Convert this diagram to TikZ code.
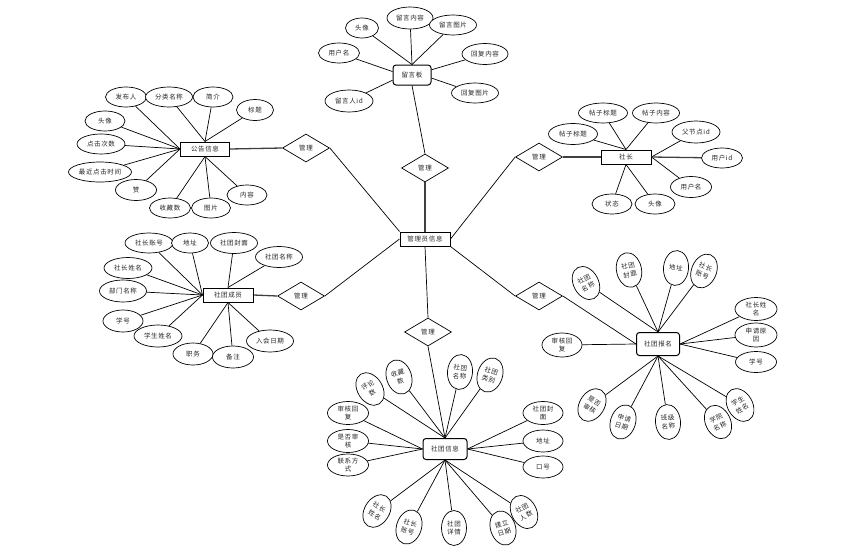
\documentclass[tikz,border=0pt]{standalone}
\usepackage{fontspec}
\setmainfont{Noto Sans CJK SC}[LetterSpace=10]
\usetikzlibrary{shapes.geometric,backgrounds}
\newcommand{\myfs}{\fontsize{6.5}{8.8}\selectfont}
\tikzset{
  attr/.style={ellipse, draw, fill=white, line width=0.7pt, inner sep=0pt,
    minimum width=#1, minimum height=20pt, font=\myfs, align=center, text=black!85},
  attr/.default=42pt,
  tall/.style={ellipse, draw, fill=white, line width=0.7pt, inner sep=0pt,
    minimum width=25pt, minimum height=35pt, font=\myfs, align=center,
    rotate=#1, text=black!85},
  ent/.style={rectangle, draw, fill=white, line width=1pt, minimum width=50pt,
    minimum height=14pt, inner sep=0pt, font=\myfs, text=black!85},
  rent/.style={rectangle, rounded corners=3pt, draw, fill=white, line width=1pt,
    inner sep=0pt, font=\myfs, text=black!85},
  rel/.style={diamond, draw, fill=white, line width=0.7pt, minimum width=47pt,
    minimum height=28pt, inner sep=0pt, font=\myfs, text=black!85},
  conn/.style={line width=0.7pt},
  tconn/.style={line width=1.3pt, black!75},
}
\begin{document}
\begin{tikzpicture}[x=1pt,y=-1pt]
\useasboundingbox (0,0) rectangle (859,554);

% ---------- entities ----------
\node[ent] (admin) at (425,239) {管理员信息};
\node[rent, minimum width=38pt, minimum height=20pt] (lyb) at (412,75) {留言板};
\node[ent, minimum width=49pt] (pub) at (205,149) {公告信息};
\node[ent] (sz) at (626,157) {社长};
\node[ent] (shcy) at (228,295) {社团成员};
\node[rent, minimum width=43pt, minimum height=23pt] (shbm) at (658,344) {社团报名};
\node[rent, minimum width=44pt, minimum height=21pt] (shxx) at (445,449) {社团信息};

% ---------- relations ----------
\node[rel] (r1) at (425,168) {管理};
\node[rel] (r2) at (306,148) {管理};
\node[rel] (r3) at (539,157) {管理};
\node[rel] (r4) at (301,296) {管理};
\node[rel] (r5) at (539,296) {管理};
\node[rel] (r6) at (428,332) {管理};

% ---------- 留言板 attributes ----------
\node[attr=46pt, minimum height=22pt] (l2) at (410,18) {留言内容};
\node[attr=33pt] (l1) at (362,28) {头像};
\node[attr=47pt] (l3) at (453,25) {留言图片};
\node[attr=41pt] (l4) at (339,53) {用户名};
\node[attr=46pt, minimum height=21pt] (l5) at (485,54) {回复内容};
\node[attr=47pt] (l6) at (475,93) {回复图片};
\node[attr=48pt, minimum height=22pt] (l7) at (349,101) {留言人id};

% ---------- 公告信息 attributes ----------
\node[attr=41pt] (p1) at (126,97) {发布人};
\node[attr=47pt] (p2) at (169,97) {分类名称};
\node[attr=40pt] (p3) at (213,97) {简介};
\node[attr=37pt, minimum height=21pt] (p4) at (255,110) {标题};
\node[attr=40pt] (p5) at (105,121) {头像};
\node[attr=48pt] (p6) at (101,144) {点击次数};
\node[attr=63pt] (p7) at (100,172) {最近点击时间};
\node[attr=41pt, minimum height=21pt] (p8) at (136,190) {赞};
\node[attr=41pt] (p9) at (170,208) {收藏数};
\node[attr=39pt] (p10) at (211,208) {图片};
\node[attr=40pt] (p11) at (247,195) {内容};

% ---------- 社长 attributes ----------
\node[attr=49pt] (s1) at (603,113) {帖子标题};
\node[attr=47pt] (s2) at (656,113) {帖子内容};
\node[attr=49pt, minimum height=21pt] (s3) at (573,134) {帖子标题};
\node[attr=48pt, minimum height=22pt] (s4) at (696,132) {父节点id};
\node[attr=41pt] (s5) at (722,158) {用户id};
\node[attr=41pt, minimum height=21pt] (s6) at (691,187) {用户名};
\node[attr=40pt] (s7) at (612,204) {状态};
\node[attr=40pt] (s8) at (655,204) {头像};

% ---------- 社团成员 attributes ----------
\node[attr=48pt] (c1) at (149,243) {社长账号};
\node[attr=37pt] (c2) at (190,243) {地址};
\node[attr=47pt, minimum height=21pt] (c3) at (234,243) {社团封面};
\node[attr=47pt, minimum height=21pt] (c4) at (279,257) {社团名称};
\node[attr=48pt, minimum height=21pt] (c5) at (128,268) {社长姓名};
\node[attr=47pt, minimum height=22pt] (c6) at (123,291) {部门名称};
\node[attr=40pt, minimum height=22pt] (c7) at (123,321) {学号};
\node[attr=48pt, minimum height=22pt] (c8) at (158,336) {学生姓名};
\node[attr=40pt, minimum height=22pt] (c9) at (193,354) {职务};
\node[attr=41pt, minimum height=22pt] (c10) at (233,357) {备注};
\node[attr=47pt, minimum height=22pt] (c11) at (270,341) {入会日期};

% ---------- 社团报名 attributes ----------
\node[tall=28] (b1) at (586,283) {社团\\名称};
\node[tall=12] (b2) at (629,270) {社团\\封面};
\node[tall=-5] (b3) at (676,268) {地址};
\node[tall=-22] (b4) at (704,271) {社长\\账号};
\node[attr=42pt, minimum height=23pt] (b5) at (756,309) {社长姓\\名};
\node[attr=42pt, minimum height=24pt] (b6) at (756,335) {申请原\\因};
\node[attr=41pt, minimum height=21pt] (b7) at (756,362) {学号};
\node[attr=40pt, minimum height=24pt] (b8) at (562,345) {审核回\\复};
\node[tall=-32] (b9) at (592,405) {是否\\审核};
\node[tall=-18] (b10) at (623,422) {申请\\日期};
\node[tall=5] (b11) at (668,422) {班级\\名称};
\node[tall=26] (b12) at (718,422) {学院\\名称};
\node[tall=30] (b13) at (740,405) {学生\\姓名};

% ---------- 社团信息 attributes ----------
\node[tall=32] (x1) at (370,389) {评论\\数};
\node[tall=18] (x2) at (399,377) {收藏\\数};
\node[tall=-5] (x3) at (460,372) {社团\\名称};
\node[tall=-18] (x4) at (490,375) {社团\\类别};
\node[attr=41pt, minimum height=23pt] (x5) at (348,413) {审核回\\复};
\node[attr=41pt, minimum height=23pt] (x6) at (348,441) {是否审\\核};
\node[attr=41pt, minimum height=22pt] (x7) at (348,465) {联系方\\式};
\node[attr=40pt, minimum height=23pt] (x8) at (543,413) {社团封\\面};
\node[attr=40pt, minimum height=22pt] (x9) at (543,441) {地址};
\node[attr=40pt, minimum height=22pt] (x10) at (543,467) {口号};
\node[tall=-32] (x11) at (377,511) {社长\\姓名};
\node[tall=-18] (x12) at (409,527) {社长\\账号};
\node[tall=0] (x13) at (454,528) {社团\\详情};
\node[tall=18] (x14) at (503,528) {建立\\日期};
\node[tall=28] (x15) at (524,512) {社团\\人数};

% ---------- connectors (behind the nodes) ----------
\begin{pgfonlayer}{background}
% main structure
\draw[tconn] (pub.east) -- (r2.west);
\draw[conn] (r2.east) -- (admin.north west);
\draw[tconn] (shcy.east) -- (r4.west);
\draw[conn] (r4.east) -- (admin.west);
\draw[tconn] (r1.south) -- (admin.north);
\draw[conn] (r1.north) -- (lyb.south);
\draw[conn] (r6.north) -- (admin.south);
\draw[conn] (r6.south) -- (shxx.north);
\draw[conn] (r3.west) -- (admin.east);
\draw[tconn] (r3.east) -- (sz.west);
\draw[conn] (admin.south east) -- (r5.west);
\draw[conn] (r5.east) -- (shbm.west);
% 留言板
\foreach \a in {l1,l2,l3} \draw[conn] (\a) -- (lyb.north);
\draw[conn] (l4) -- (lyb.170);
\draw[conn] (l7) -- (lyb.195);
\draw[conn] (l5) -- (lyb.15);
\draw[conn] (l6) -- (lyb.-9);
% 公告信息
\foreach \a in {p1,p5,p6,p7,p8} \draw[conn] (\a) -- (pub.west);
\foreach \a in {p2,p3,p4} \draw[conn] (\a) -- (pub.north);
\foreach \a in {p9,p10,p11} \draw[conn] (\a) -- (pub.south);
% 社长
\foreach \a in {s1,s2,s3} \draw[conn] (\a) -- (sz.north);
\foreach \a in {s4,s6} \draw[conn] (\a) -- (sz.east);
\draw[tconn] (s5) -- (sz.east);
\foreach \a in {s7,s8} \draw[conn] (\a) -- (sz.south);
% 社团成员
\foreach \a in {c1,c2,c5,c6,c7,c8} \draw[conn] (\a) -- (shcy.west);
\foreach \a in {c3,c4} \draw[conn] (\a) -- (shcy.north);
\foreach \a in {c9,c10,c11} \draw[conn] (\a) -- (shcy.south);
% 社团报名
\foreach \a in {b1,b2,b3,b4} \draw[conn] (\a) -- (shbm.north);
\foreach \a in {b5,b6,b7} \draw[conn] (\a) -- (shbm.east);
\draw[conn] (b8) -- (shbm.west);
\foreach \a in {b9,b10,b11,b12,b13} \draw[conn] (\a) -- (shbm.south);
% 社团信息
\foreach \a in {x1,x2,x3,x4} \draw[conn] (\a) -- (shxx.north);
\foreach \a in {x5,x6,x7} \draw[conn] (\a) -- (shxx.west);
\foreach \a in {x8,x9,x10} \draw[conn] (\a) -- (shxx.east);
\foreach \a in {x11,x12,x13,x14,x15} \draw[conn] (\a) -- (shxx.south);
\end{pgfonlayer}
\end{tikzpicture}
\end{document}
